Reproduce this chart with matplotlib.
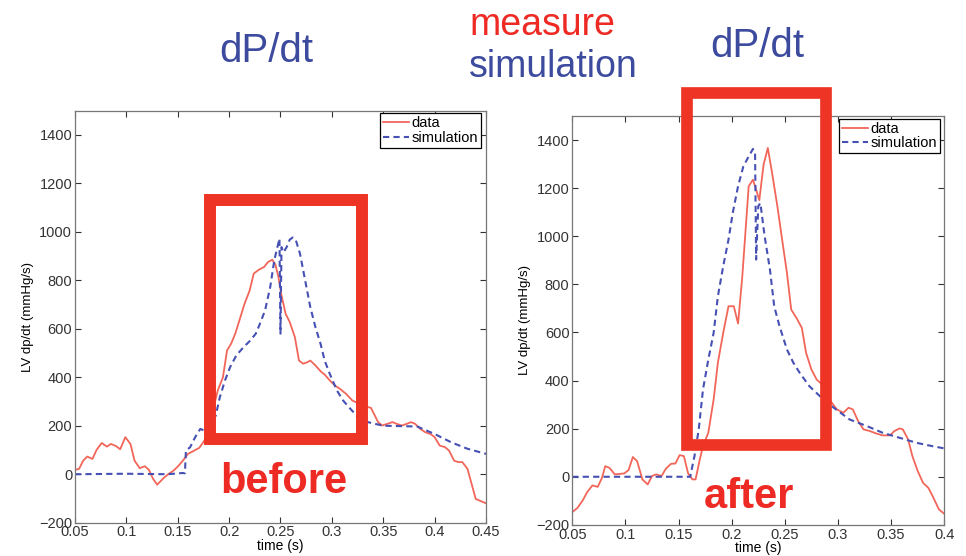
import matplotlib
matplotlib.use("Agg")
import matplotlib.pyplot as plt
from matplotlib.patches import Rectangle

plt.rcParams["font.family"] = ["Liberation Sans", "DejaVu Sans"]

# ---- before (left panel) ----
before_data_t = [0.050, 0.054, 0.058, 0.062, 0.067, 0.071, 0.076, 0.081, 0.085, 0.090,
                 0.094, 0.099, 0.104, 0.108, 0.113, 0.118, 0.122, 0.126, 0.130, 0.136,
                 0.141, 0.146, 0.151, 0.155, 0.160, 0.165, 0.171, 0.176, 0.180, 0.185,
                 0.189, 0.194, 0.198, 0.202, 0.206, 0.211, 0.215, 0.220, 0.224, 0.229,
                 0.234, 0.238, 0.242, 0.245, 0.248, 0.251, 0.255, 0.259, 0.264, 0.268,
                 0.272, 0.276, 0.279, 0.284, 0.289, 0.293, 0.298, 0.303, 0.308, 0.314,
                 0.320, 0.327, 0.333, 0.338, 0.341, 0.345, 0.349, 0.354, 0.359, 0.363,
                 0.368, 0.373, 0.377, 0.381, 0.386, 0.391, 0.396, 0.400, 0.405, 0.410,
                 0.414, 0.419, 0.423, 0.427, 0.432, 0.436, 0.440, 0.450]
before_data_v = [18, 22, 56, 73, 63, 100, 129, 114, 125, 116,
                 103, 153, 125, 56, 25, 33, 18, -19, -43, -17,
                 1, 15, 36, 56, 84, 95, 109, 139, 194, 277,
                 346, 400, 511, 539, 580, 648, 703, 758, 828, 844,
                 855, 876, 885, 866, 814, 738, 662, 628, 566, 469,
                 456, 462, 469, 449, 425, 411, 387, 366, 352, 331,
                 304, 290, 279, 274, 249, 215, 201, 208, 215, 208,
                 201, 208, 215, 208, 187, 173, 166, 153, 118, 112,
                 98, 56, 50, 50, 22, -40, -102, -120]

before_sim_t = [0.050, 0.100, 0.140, 0.155, 0.157, 0.158, 0.162, 0.167, 0.172, 0.176,
                0.182, 0.187, 0.191, 0.196, 0.201, 0.207, 0.214, 0.220, 0.226, 0.230,
                0.235, 0.240, 0.244, 0.247, 0.249, 0.250, 0.251, 0.253, 0.256, 0.259,
                0.262, 0.265, 0.269, 0.274, 0.279, 0.284, 0.289, 0.293, 0.298, 0.305,
                0.311, 0.318, 0.324, 0.335, 0.350, 0.383, 0.400, 0.416, 0.432, 0.450]
before_sim_v = [0, 2, 0, 5, 4, 98, 111, 153, 187, 180,
                205, 242, 318, 387, 442, 490, 524, 549, 580, 621,
                676, 772, 883, 937, 972, 580, 937, 916, 937, 968,
                977, 965, 910, 800, 690, 607, 538, 469, 414, 345,
                304, 270, 242, 215, 200, 197, 166, 132, 105, 84]

# ---- after (right panel) ----
after_data_t = [0.050, 0.055, 0.060, 0.064, 0.069, 0.074, 0.078, 0.081, 0.085, 0.090,
                0.095, 0.099, 0.103, 0.107, 0.111, 0.116, 0.121, 0.125, 0.129, 0.134,
                0.138, 0.143, 0.147, 0.151, 0.155, 0.159, 0.163, 0.166, 0.170, 0.173,
                0.178, 0.183, 0.187, 0.192, 0.197, 0.202, 0.206, 0.210, 0.216, 0.220,
                0.223, 0.226, 0.230, 0.234, 0.238, 0.243, 0.247, 0.252, 0.256, 0.261,
                0.266, 0.270, 0.275, 0.280, 0.285, 0.292, 0.299, 0.305, 0.310, 0.314,
                0.319, 0.324, 0.330, 0.336, 0.342, 0.349, 0.353, 0.358, 0.361, 0.366,
                0.370, 0.375, 0.380, 0.385, 0.389, 0.395, 0.400]
after_data_v = [-147, -129, -97, -64, -36, -42, -4, 44, 37, 10,
                12, 14, 28, 82, 65, -11, -32, 3, 10, 3,
                33, 54, 55, 90, 86, 14, -11, -11, 72, 127,
                183, 321, 474, 598, 709, 709, 637, 834, 1208, 1235,
                1194, 1150, 1298, 1367, 1263, 1124, 1000, 847, 695, 660,
                619, 515, 446, 404, 384, 321, 280, 266, 287, 280,
                231, 197, 190, 180, 172, 172, 190, 201, 197, 155,
                86, 24, -25, -46, -80, -136, -154]

after_sim_t = [0.050, 0.100, 0.161, 0.163, 0.165, 0.169, 0.173, 0.178, 0.183, 0.187,
               0.192, 0.197, 0.201, 0.206, 0.211, 0.216, 0.220, 0.222, 0.223, 0.225,
               0.227, 0.231, 0.236, 0.240, 0.245, 0.252, 0.258, 0.264, 0.273, 0.283,
               0.296, 0.311, 0.327, 0.342, 0.358, 0.374, 0.389, 0.400]
after_sim_v = [0, 0, 0, 44, 86, 197, 363, 487, 598, 750,
               875, 986, 1097, 1208, 1291, 1332, 1363, 1346, 903, 1125,
               1138, 1000, 861, 709, 626, 529, 474, 432, 377, 335,
               287, 238, 211, 183, 162, 141, 127, 118]

x_ticks_before = [0.05, 0.1, 0.15, 0.2, 0.25, 0.3, 0.35, 0.4, 0.45]
x_ticks_after = [0.05, 0.1, 0.15, 0.2, 0.25, 0.3, 0.35, 0.4]
y_ticks = [-200, 0, 200, 400, 600, 800, 1000, 1200, 1400]

DATA_RED = "#f2665a"
SIM_BLUE = "#4651b3"
TITLE_BLUE = "#3d4b9e"
BOX_RED = "#ee3424"


def style_axes(ax, xlim, xticks):
    ax.set_xlim(*xlim)
    ax.set_ylim(-200, 1500)
    ax.set_xticks(xticks)
    ax.set_xticklabels([f"{t:g}" for t in xticks])
    ax.set_yticks(y_ticks)
    ax.tick_params(direction="in", top=True, right=True, length=4, width=0.8,
                   labelsize=10.5, colors="#333333", pad=2)
    ax.tick_params(axis="x", pad=2)
    for sp in ax.spines.values():
        sp.set_color("#777777")
        sp.set_linewidth(0.9)
    ax.set_xlabel("time (s)", fontsize=10, labelpad=-0.5)
    ax.set_ylabel("LV dp/dt (mmHg/s)", fontsize=9.5, labelpad=4)


def add_panel(ax, data_t, data_v, sim_t, sim_v):
    ax.plot(data_t, data_v, color=DATA_RED, lw=1.3, label="data")
    ax.plot(sim_t, sim_v, color=SIM_BLUE, lw=1.5, dashes=(3, 2), label="simulation")


def add_legend(ax, anchor):
    leg = ax.legend(loc="upper right", bbox_to_anchor=anchor, borderaxespad=0,
                    fancybox=False, edgecolor="black", fontsize=10.5, labelspacing=0.05,
                    borderpad=0.2, handlelength=1.8, handletextpad=0.15, framealpha=1)
    leg.get_frame().set_linewidth(0.9)


fig = plt.figure(figsize=(9.66, 5.56), dpi=100)

ax1 = fig.add_axes([0.0776, 0.0599, 0.4255, 0.741])
add_panel(ax1, before_data_t, before_data_v, before_sim_t, before_sim_v)
style_axes(ax1, (0.05, 0.45), x_ticks_before)
add_legend(ax1, (0.988, 0.994))

ax2 = fig.add_axes([0.5924, 0.056, 0.3851, 0.7354])
add_panel(ax2, after_data_t, after_data_v, after_sim_t, after_sim_v)
style_axes(ax2, (0.05, 0.4), x_ticks_after)
add_legend(ax2, (0.988, 0.993))

# highlight boxes (data coords, allowed to extend past the axes)
ax1.add_patch(Rectangle((0.181, 147), 0.329 - 0.181, 1130 - 147, fill=False,
                        edgecolor=BOX_RED, lw=8.6, clip_on=False, zorder=5,
                        joinstyle="miter"))
ax2.add_patch(Rectangle((0.158, 130), 0.289 - 0.158, 1597 - 130, fill=False,
                        edgecolor=BOX_RED, lw=8.4, clip_on=False, zorder=5,
                        joinstyle="miter"))

# annotation texts (figure coords)
H = 556.0
W = 966.0
fig.text(266 / W, 1 - 62 / H, "dP/dt", color=TITLE_BLUE, fontsize=29,
         ha="center", va="baseline")
fig.text(757 / W, 1 - 57 / H, "dP/dt", color=TITLE_BLUE, fontsize=29,
         ha="center", va="baseline")
fig.text(469 / W, 1 - 35 / H, "measure", color="#ee2a24", fontsize=27,
         ha="left", va="baseline")
fig.text(469 / W, 1 - 77 / H, "simulation", color=TITLE_BLUE, fontsize=27,
         ha="left", va="baseline")
fig.text(284 / W, 1 - 493 / H, "before", color="#ee2a24", fontsize=30,
         fontweight="bold", ha="center", va="baseline")
fig.text(749 / W, 1 - 508 / H, "after", color="#ee2a24", fontsize=30,
         fontweight="bold", ha="center", va="baseline")

fig.savefig("out.png", dpi=100)
